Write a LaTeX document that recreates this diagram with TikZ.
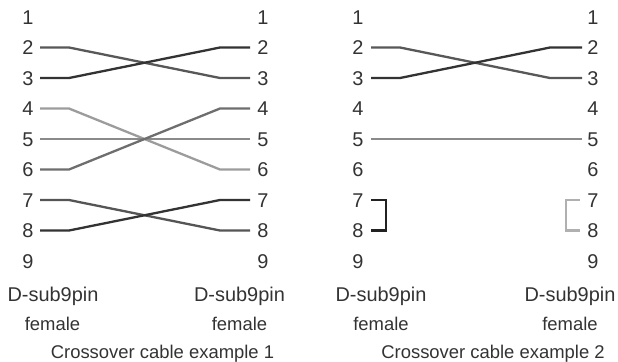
\documentclass[tikz,border=0pt]{standalone}
\usepackage{fontspec}
\setmainfont{Liberation Sans}
\definecolor{wireA}{HTML}{585858}
\definecolor{wireB}{HTML}{333333}
\definecolor{wireC}{HTML}{9C9C9C}
\definecolor{wireD}{HTML}{8A8A8A}
\definecolor{wireE}{HTML}{6E6E6E}
\definecolor{wireF}{HTML}{555555}
\definecolor{loopK}{HTML}{222222}
\definecolor{loopG}{HTML}{B0B0B0}
\definecolor{txt}{HTML}{333333}
\begin{document}
\begin{tikzpicture}[x=1bp,y=-1bp,
  lbl/.style={font=\fontsize{18.5}{21}\selectfont, text=txt, inner sep=0pt, anchor=base},
  pin/.style={lbl, font=\fontsize{20}{22}\selectfont},
  conn/.style={lbl, font=\fontsize{20}{22}\selectfont},
  wire/.style={line width=2.3bp, line join=round}]
\useasboundingbox (0,0) rectangle (618,361);
% pin labels
\foreach \n in {1,...,9}{
  \pgfmathsetmacro{\yy}{17+(\n-1)*30.5+7.2}
  \node[pin] (aL\n) at (28,\yy) {\n};
  \node[pin] (aR\n) at (263,\yy) {\n};
  \node[pin] (bL\n) at (358,\yy) {\n};
  \node[pin] (bR\n) at (593,\yy) {\n};
  \pgfmathsetmacro{\ry}{17+(\n-1)*30.5}
  \coordinate (paL\n) at (40,\ry);
  \coordinate (qaL\n) at (69,\ry);
  \coordinate (qaR\n) at (220,\ry);
  \coordinate (paR\n) at (250,\ry);
  \coordinate (pbL\n) at (371,\ry);
  \coordinate (qbL\n) at (400,\ry);
  \coordinate (qbR\n) at (550,\ry);
  \coordinate (pbR\n) at (582,\ry);
}
% example 1
\draw[wire, wireA] (paL2) -- (qaL2) -- (qaR3) -- (paR3);
\draw[wire, wireB] (paL3) -- (qaL3) -- (qaR2) -- (paR2);
\draw[wire, wireC] (paL4) -- (qaL4) -- (qaR6) -- (paR6);
\draw[wire, wireD] (paL5) -- (paR5);
\draw[wire, wireE] (paL6) -- (qaL6) -- (qaR4) -- (paR4);
\draw[wire, wireF] (paL7) -- (qaL7) -- (qaR8) -- (paR8);
\draw[wire, wireB] (paL8) -- (qaL8) -- (qaR7) -- (paR7);
% example 2
\draw[wire, wireA] (pbL2) -- (qbL2) -- (qbR3) -- (pbR3);
\draw[wire, wireB] (pbL3) -- (qbL3) -- (qbR2) -- (pbR2);
\draw[wire, wireD] (pbL5) -- (pbR5);
\draw[wire, loopK, line join=miter] (pbL7) -- ++(15,0) |- (pbL8);
\coordinate (gb7) at (580,200);
\coordinate (gb8) at (580,230.5);
\draw[wire, loopG, line join=miter] (gb7) -- ++(-14,0) |- (gb8);
% captions
\node[conn] (ta1) at (53,301) {D-sub9pin};
\node[conn] (ta2) at (239.5,301) {D-sub9pin};
\node[conn] (tb1) at (381,301) {D-sub9pin};
\node[conn] (tb2) at (570,301) {D-sub9pin};
\node[lbl] (fa1) at (52.5,330) {female};
\node[lbl] (fa2) at (239.5,330) {female};
\node[lbl] (fb1) at (381,330) {female};
\node[lbl] (fb2) at (570,330) {female};
\node[lbl] (ca) at (162.5,358) {Crossover cable example 1};
\node[lbl] (cb) at (493,358) {Crossover cable example 2};
\end{tikzpicture}
\end{document}
